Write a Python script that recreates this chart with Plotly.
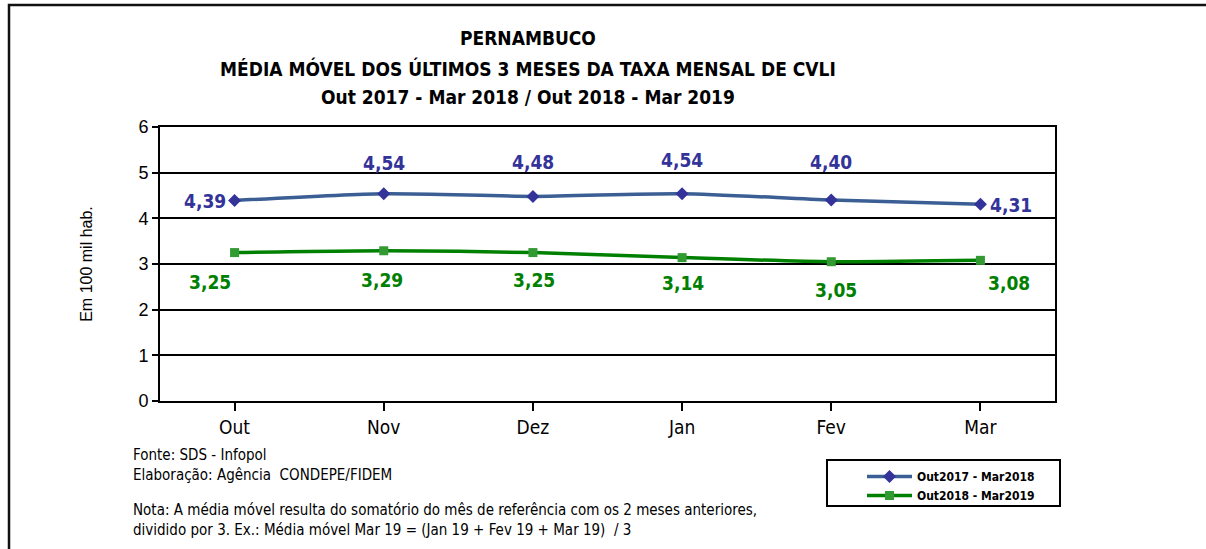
import plotly.graph_objects as go

months = ["Out", "Nov", "Dez", "Jan", "Fev", "Mar"]
serie_2017_2018 = [4.39, 4.54, 4.48, 4.54, 4.40, 4.31]
serie_2018_2019 = [3.25, 3.29, 3.25, 3.14, 3.05, 3.08]
name_2017_2018 = "Out2017 - Mar2018"
name_2018_2019 = "Out2018 - Mar2019"
y_ticks = [0, 1, 2, 3, 4, 5, 6]

NARROW = "Liberation Sans Narrow, DejaVu Sans Condensed, Liberation Sans, Arial, sans-serif"
REG = "Liberation Sans, Arial, sans-serif"

BLUE_LINE = "#3b5e95"
BLUE_MARK = "#333399"
BLUE_TXT = "#333399"
GREEN_LINE = "#008000"
GREEN_MARK = "#339933"
GREEN_TXT = "#008000"

W, H = 1206, 549
L, R, T, B = 160, 1055, 127, 401


def px_x(px):
    return (px - L) / (R - L)


def px_y(py):
    return (B - py) / (B - T)


x_idx = list(range(len(months)))

fig = go.Figure()
fig.add_trace(go.Scatter(
    x=x_idx, y=serie_2017_2018, name=name_2017_2018, mode="lines+markers",
    line=dict(color=BLUE_LINE, width=3.5, shape="spline", smoothing=0.7),
    marker=dict(symbol="diamond", size=10, color=BLUE_MARK, line=dict(width=0)),
))
fig.add_trace(go.Scatter(
    x=x_idx, y=serie_2018_2019, name=name_2018_2019, mode="lines+markers",
    line=dict(color=GREEN_LINE, width=3.5, shape="spline", smoothing=0.7),
    marker=dict(symbol="square", size=9, color=GREEN_MARK, line=dict(width=0)),
))

# label offsets (style only): (xanchor, xshift, yshift)
blue_off = [("right", -7, 0), ("center", 0, 31), ("center", 0, 34),
            ("center", 0, 34), ("center", 0, 38), ("left", 8, -1)]
green_off = [("center", -25, -29), ("center", -2, -29), ("center", 1, -27),
             ("center", 1, -25), ("center", 5, -28), ("center", 29, -23)]


def fmt(v):
    return f"{v:.2f}".replace(".", ",")


for i, v in enumerate(serie_2017_2018):
    xa, xs, ys = blue_off[i]
    fig.add_annotation(x=i, y=v, xref="x", yref="y", text=fmt(v), showarrow=False,
                       xanchor=xa, yanchor="middle", xshift=xs, yshift=ys,
                       font=dict(family=NARROW, size=19, color=BLUE_TXT, weight="bold"))
for i, v in enumerate(serie_2018_2019):
    xa, xs, ys = green_off[i]
    fig.add_annotation(x=i, y=v, xref="x", yref="y", text=fmt(v), showarrow=False,
                       xanchor=xa, yanchor="middle", xshift=xs, yshift=ys,
                       font=dict(family=NARROW, size=19, color=GREEN_TXT, weight="bold"))

# Titles
titles = [("PERNAMBUCO", 38), ("MÉDIA MÓVEL DOS ÚLTIMOS 3 MESES DA TAXA MENSAL DE CVLI", 68),
          ("Out 2017 - Mar 2018 / Out 2018 - Mar 2019", 97)]
for t, ypx in titles:
    fig.add_annotation(x=px_x(528), y=px_y(ypx), xref="paper", yref="paper",
                       text=t, showarrow=False, xanchor="center", yanchor="middle",
                       font=dict(family=NARROW, size=19, color="black", weight="bold"))

# Footer notes
notes = [("Fonte: SDS - Infopol", 455), ("Elaboração: Agência  CONDEPE/FIDEM", 475),
         ("Nota: A média móvel resulta do somatório do mês de referência com os 2 meses anteriores,", 510),
         ("dividido por 3. Ex.: Média móvel Mar 19 = (Jan 19 + Fev 19 + Mar 19)  / 3", 530)]
for t, ypx in notes:
    fig.add_annotation(x=px_x(131), y=px_y(ypx), xref="paper", yref="paper",
                       text=t, showarrow=False, xanchor="left", yanchor="middle",
                       font=dict(family=NARROW, size=15, color="black"))

# Outer border
fig.add_shape(type="rect", xref="paper", yref="paper",
              x0=px_x(9), x1=px_x(1230), y0=px_y(570), y1=px_y(5),
              line=dict(color="#111111", width=2.5), layer="below")
# Legend box
fig.add_shape(type="rect", xref="paper", yref="paper",
              x0=px_x(827), x1=px_x(1060), y0=px_y(506), y1=px_y(460),
              line=dict(color="black", width=2), fillcolor="white", layer="below")

fig.update_layout(
    width=W, height=H,
    margin=dict(l=L, r=W - R, t=T, b=H - B),
    paper_bgcolor="white", plot_bgcolor="white",
    showlegend=True,
    legend=dict(x=px_x(862), y=px_y(462), xref="paper", yref="paper",
                xanchor="left", yanchor="top",
                borderwidth=0, bgcolor="rgba(0,0,0,0)",
                font=dict(family=NARROW, size=12, color="black", weight="bold"),
                itemwidth=45, tracegroupgap=0),
    xaxis=dict(
        range=[-0.5, 5.5], tickmode="array", tickvals=x_idx, ticktext=months,
        showgrid=False, zeroline=False,
        showline=True, linecolor="black", linewidth=2, mirror=True,
        ticks="outside", ticklen=8, tickwidth=2, tickcolor="black",
        tickson="boundaries",
        tickfont=dict(family=NARROW, size=19, color="black"),
        fixedrange=True,
    ),
    yaxis=dict(
        range=[0, 6], tickmode="array", tickvals=y_ticks,
        showgrid=True, gridcolor="black", gridwidth=2,
        zeroline=False,
        showline=True, linecolor="black", linewidth=2, mirror=True,
        ticks="outside", ticklen=6, tickwidth=2, tickcolor="black",
        tickfont=dict(family=REG, size=18, color="black"),
        title=dict(text="Em 100 mil hab.", font=dict(family=REG, size=16, color="black"),
                   standoff=42),
        fixedrange=True,
    ),
)

fig.write_html("out.html", config={"displayModeBar": False},
               post_script="document.body.style.margin='0';")
